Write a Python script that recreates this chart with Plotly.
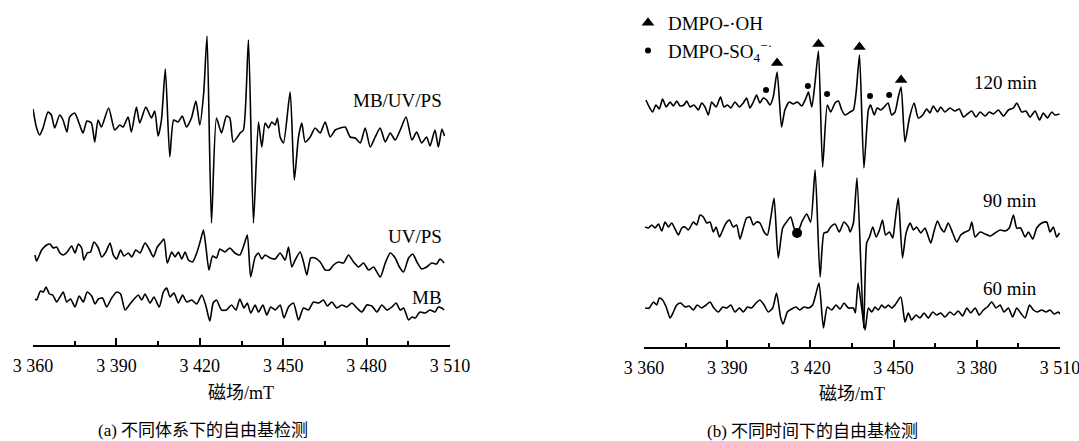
import plotly.graph_objects as go

# ---------------- data (intensity relative to each trace's baseline, a.u.) ----------------
# (a) different systems
mbuvps_x = [3360, 3361.2, 3362.4, 3363.6, 3365.4, 3366.6, 3367.8, 3369.6, 3370.8, 3372.2, 3373.2, 3375, 3376.8, 3378,
            3379.4, 3381, 3382.2, 3383.4, 3384.6, 3387.2, 3389.4, 3391.2, 3392.4, 3394.2, 3395.4, 3397.2, 3398.4, 3400.6,
            3402.6, 3403.8, 3405, 3406.2, 3407.6, 3409.2, 3410.6, 3412.2, 3413.7, 3415.2, 3417, 3418.6, 3420, 3421.4,
            3422.6, 3424.2, 3426, 3427.8, 3429.6, 3430.8, 3432, 3433.8, 3434.5, 3435.7, 3437.5, 3439.3, 3441.1, 3442.3,
            3443.5, 3444.7, 3445.9, 3447.1, 3447.9, 3448.9, 3450.1, 3452.5, 3454, 3455.5, 3456.7, 3457.9, 3459.7, 3461.5,
            3463.3, 3465.1, 3466.9, 3468.7, 3470.5, 3472.3, 3474.1, 3475.9, 3477.7, 3479.5, 3481.3, 3483.1, 3484.9,
            3486.7, 3488.5, 3490.3, 3492.1, 3494.2, 3496.3, 3498, 3499.8, 3501.6, 3502.8, 3504.6, 3505.8, 3507.1, 3508]
mbuvps_y = [14, -4, -12, -5, 11, 8, -5, 8, 3, -9, 6, 10, -2, -10,
            2, 0, -19, 3, -4, 15, -7, -2, -4, 6, -9, 16, 0, 16,
            5, 12, -13, 3, 54, -34, 3, 1, 7, -4, 5, 22, -2, 30,
            87, -100, 5, -10, 7, 5, -19, -13, -10, -7, 83, -100, 1, -24,
            0, -5, 1, -2, 5, -14, -20, 31, -57, -14, 0, -19, -14, -5,
            -10, 1, -14, -7, -5, -4, -14, -15, -20, -5, -24, -14, -5,
            -19, -10, -17, -7, 6, -17, -9, -20, -14, -23, -7, -24, -6, -13]

uvps_x = [3360.7, 3361.3, 3363.1, 3364.9, 3366.1, 3367.3, 3368.5, 3369.7, 3370.9, 3372.3, 3373.9, 3375.1, 3376.3,
          3377.5, 3378.3, 3379.5, 3380.7, 3381.9, 3383.5, 3384.7, 3386.2, 3387.7, 3388.9, 3390.1, 3391.5, 3392.7,
          3394.3, 3395.5, 3397.0, 3398.5, 3400.3, 3401.8, 3403.3, 3404.7, 3405.9, 3407.1, 3408.3, 3409.9, 3411.1,
          3412.3, 3413.5, 3414.7, 3415.9, 3417.4, 3418.9, 3420.1, 3421.3, 3422.2, 3423.3, 3424.6, 3426.0, 3427.2,
          3429.0, 3430.8, 3432.6, 3434.4, 3435.9, 3437.1, 3438.3, 3439.9, 3441.1, 3442.3, 3443.5, 3445.3, 3447.1,
          3448.9, 3450.7, 3451.9, 3453.1, 3454.3, 3456.1, 3457.3, 3458.5, 3459.9, 3461.5, 3463.3, 3465.1, 3466.6,
          3468.1, 3469.9, 3471.7, 3473.5, 3475.3, 3477.1, 3478.9, 3480.7, 3482.5, 3484.9, 3486.7, 3488.5, 3490.3,
          3491.8, 3493.3, 3495.1, 3496.6, 3498.1, 3499.8, 3501.6, 3503.4, 3505.2, 3506.4, 3507.9]
uvps_y = [-2, -8, 3, 8, 9, 5, 6, 0, -2, 1, 7, 0, 9,
          5, -7, 0, 1, 11, 5, -4, 1, 10, -2, -6, 3, -3,
          0, -4, 3, 0, 10, 4, -4, 6, 10, 14, -10, 1, -4,
          1, -6, 1, -7, -9, 0, 11, 23, 6, -17, -3, -5, 4,
          1, 5, 0, -2, 8, 18, -24, -4, 0, -6, -2, -5, -6,
          0, -7, 6, -14, -7, 1, -9, -22, -5, -5, -9, -17, -17,
          -12, -9, -10, -2, -9, -14, -10, -17, -14, -24, -10, 0, -5,
          -14, -19, -5, -1, -9, -16, -14, -10, -11, -6, -10]

mb_x = [3360.7, 3361.3, 3362.7, 3363.7, 3364.7, 3365.9, 3367.1, 3368.5, 3369.7, 3370.9, 3372.1, 3373.5, 3375.1,
        3376.6, 3378.1, 3379.5, 3381.1, 3382.3, 3383.5, 3385.0, 3386.5, 3388.3, 3390.1, 3391.5, 3393.1, 3394.9,
        3396.7, 3397.9, 3399.1, 3400.3, 3402.1, 3403.5, 3405.4, 3406.9, 3408.1, 3409.3, 3410.7, 3412.3, 3413.8,
        3415.3, 3417.1, 3418.9, 3420.7, 3422.2, 3423.6, 3424.8, 3426.0, 3427.8, 3429.6, 3431.4, 3433.0, 3434.4,
        3435.9, 3437.1, 3438.3, 3439.9, 3441.1, 3442.7, 3444.1, 3445.5, 3447.1, 3448.9, 3450.3, 3451.9, 3453.7,
        3455.5, 3457.3, 3459.1, 3460.9, 3462.7, 3464.5, 3465.9, 3467.5, 3469.3, 3471.1, 3472.9, 3474.7, 3476.5,
        3478.3, 3480.1, 3481.9, 3483.7, 3485.5, 3487.3, 3489.1, 3490.6, 3492.1, 3493.3, 3495.1, 3496.3, 3497.5,
        3499.2, 3501.0, 3502.8, 3504.6, 3505.8, 3507.0, 3507.9]
mb_y = [1, 0, 9, 8, 13, 6, 5, -2, 3, 8, -2, 1, -7,
        4, -2, 8, 4, -4, 1, 2, -7, 2, 8, 6, -10, -4,
        2, 5, 0, 6, -3, 3, -7, 8, 12, 3, 7, -3, 5,
        -2, 0, -4, 5, -6, -21, -3, 0, -10, -10, -5, -10, 1,
        -8, -3, -13, -5, -12, -5, -15, -7, -10, -5, -18, -7, -3,
        -20, -8, -10, -2, -3, 0, -6, -2, -8, -5, -7, -3, -8,
        -12, -5, -6, -12, -5, -10, -7, -3, -10, -8, -20, -17, -18,
        -12, -13, -10, -12, -7, -8, -10]

# (b) different times
t120_x = [3360.7, 3361.9, 3363.1, 3364.3, 3365.5, 3366.7, 3368.0, 3369.4, 3370.6, 3371.8, 3373.0, 3374.4, 3375.4,
          3376.6, 3378.0, 3379.6, 3380.8, 3382.0, 3383.2, 3384.4, 3386.0, 3387.6, 3388.8, 3390.1, 3391.3, 3392.8,
          3394.4, 3395.8, 3397.0, 3398.2, 3399.4, 3400.6, 3401.8, 3403.0, 3404.2, 3405.4, 3406.6, 3408.0, 3409.6,
          3410.8, 3412.4, 3413.8, 3415.3, 3416.9, 3418.4, 3419.3, 3420.5, 3421.7, 3422.9, 3424.4, 3426.1, 3427.3,
          3428.9, 3430.1, 3431.3, 3432.5, 3434.3, 3435.5, 3436.5, 3437.7, 3439.3, 3440.9, 3441.7, 3443.0, 3444.1,
          3445.3, 3446.6, 3448.0, 3449.3, 3450.5, 3451.7, 3452.7, 3454.1, 3455.7, 3457.4, 3458.9, 3460.5, 3461.9,
          3463.1, 3464.3, 3465.8, 3467.0, 3468.5, 3470.3, 3472.1, 3473.7, 3475.2, 3476.6, 3478.2, 3479.7, 3481.2,
          3483.0, 3484.5, 3486.0, 3487.8, 3489.6, 3491.4, 3493.2, 3494.4, 3496.2, 3497.7, 3499.2, 3501.0, 3502.6,
          3504.0, 3505.5, 3507.0, 3508.2, 3509.8]
t120_y = [7, 0, -5, 2, -2, 8, 0, 5, 1, 6, 1, 2, 6,
          0, 2, -3, 4, 0, -8, 5, 0, 10, 0, 2, -1, 5,
          0, 4, 9, -1, 5, 12, 4, 9, 7, 2, 10, 35, -20,
          -3, 5, 3, 5, 1, 9, 15, 0, 25, 56, -60, 2, -5,
          4, 6, -3, -8, -5, -3, 15, 52, -61, -3, 2, -8, -1,
          -3, 0, 4, -8, -5, 10, 20, -35, -11, 4, -11, -8, -2,
          -6, 1, -5, 0, -5, -1, -4, -2, -10, -7, -4, -10, -5,
          -9, -5, -7, -3, -9, -3, -1, 4, -5, -4, -10, -4, -13,
          -6, -11, -5, -8, -7]

t90_x = [3360.4, 3361.6, 3362.8, 3364.0, 3365.2, 3366.4, 3367.6, 3368.8, 3370.0, 3371.2, 3372.4, 3373.6, 3374.8,
         3376.0, 3377.8, 3379.0, 3380.2, 3381.4, 3382.6, 3383.8, 3385.0, 3386.0, 3387.2, 3388.4, 3389.6, 3390.8,
         3392.2, 3393.4, 3394.6, 3395.8, 3397.0, 3398.2, 3399.4, 3400.6, 3401.8, 3403.3, 3404.5, 3405.7, 3406.9,
         3408.4, 3410.0, 3411.4, 3412.9, 3414.1, 3415.3, 3416.9, 3418.7, 3420.1, 3421.7, 3423.5, 3424.9, 3426.1,
         3427.3, 3428.9, 3430.4, 3432.1, 3433.7, 3434.3, 3435.5, 3436.8, 3439.2, 3440.3, 3441.3, 3442.5, 3443.7,
         3444.9, 3446.0, 3447.1, 3448.5, 3449.7, 3450.5, 3451.7, 3453.2, 3454.5, 3456.0, 3457.1, 3458.3, 3459.8,
         3461.3, 3462.2, 3463.4, 3464.6, 3465.8, 3467.0, 3468.2, 3469.7, 3471.3, 3472.8, 3474.2, 3475.8, 3477.3,
         3478.2, 3479.4, 3481.2, 3483.0, 3484.8, 3486.6, 3488.4, 3490.2, 3491.7, 3493.2, 3494.4, 3495.8, 3497.4,
         3498.6, 3500.2, 3501.6, 3503.4, 3505.2, 3506.4, 3507.6, 3508.8, 3509.8]
t90_y = [1, 0, 3, 0, 4, -3, 6, 1, 5, -1, -7, 0, 1,
         -2, 6, 3, 13, 11, 5, 6, -4, 1, -9, -2, 5, 8,
         1, 3, -11, 0, 10, 11, 3, 6, 5, -4, -7, 10, 30,
         -30, 0, 6, 11, 0, -5, 6, 14, 6, 58, -49, -5, -4,
         1, 4, -4, 6, 1, -4, 5, 50, -100, -15, -9, 1, -9,
         -2, 8, -7, -4, -10, 6, 30, -30, -5, 5, -2, 1, -5,
         0, -6, -15, -3, 7, 0, -4, 5, -5, -14, -7, -4, -2,
         6, -9, -4, -6, -8, -5, -2, -3, 0, 13, 0, 0, -9,
         -4, -11, 0, 5, 6, -4, 1, -9, -5]

t60_x = [3360.4, 3361.9, 3363.4, 3364.6, 3365.5, 3366.7, 3368.0, 3369.4, 3370.6, 3371.8, 3373.2, 3374.8, 3376.3,
         3377.8, 3379.2, 3380.8, 3382.4, 3383.8, 3385.2, 3386.8, 3388.4, 3389.8, 3391.3, 3392.8, 3394.4, 3395.8,
         3397.3, 3398.8, 3400.4, 3401.8, 3403.3, 3404.8, 3406.4, 3407.8, 3409.3, 3410.2, 3411.7, 3413.2, 3414.8,
         3416.2, 3417.7, 3419.3, 3420.8, 3421.7, 3423.1, 3424.7, 3426.1, 3427.7, 3429.2, 3430.7, 3432.1, 3433.7,
         3435.5, 3436.2, 3437.2, 3439.7, 3440.9, 3442.1, 3443.3, 3444.5, 3445.7, 3446.9, 3448.1, 3449.3, 3450.5,
         3452.6, 3454.1, 3455.3, 3456.5, 3458.1, 3459.5, 3461.0, 3462.5, 3464.1, 3465.5, 3467.0, 3468.5, 3470.3,
         3471.8, 3473.3, 3474.9, 3476.4, 3477.8, 3479.4, 3480.9, 3482.4, 3483.8, 3485.4, 3486.9, 3488.4, 3489.8,
         3491.4, 3492.9, 3494.4, 3495.8, 3497.4, 3499.0, 3500.4, 3501.8, 3503.4, 3505.0, 3506.4, 3507.9, 3509.4,
         3510.0]
t60_y = [0, 0, 6, 3, 10, 8, 1, -10, -4, 3, 5, 1, 2,
         -2, 3, 0, 3, 6, 0, -4, 1, 0, 3, -4, 0, -4,
         1, 0, 5, 8, 3, -4, 0, 15, -10, -16, -4, -1, 1,
         -2, 1, 0, 3, 11, 25, -20, 1, -2, 3, -1, 5, 0,
         0, -5, 25, -22, 0, -4, 1, -2, 3, 0, 3, 0, 3,
         11, -14, -5, -12, -7, -10, -5, -10, -4, -7, -5, -9, -4,
         -7, -3, -8, 0, -5, 0, -7, -2, 1, 6, 0, 3, -4,
         0, -9, 0, -5, -10, 3, -2, -4, -2, -4, -2, -6, -4,
         -6]

# marker annotations on the 120 min spectrum (relative to its baseline)
oh_x = [3408.0, 3422.9, 3437.7, 3452.7]
oh_y = [44, 63, 60, 27]
so4_x = [3404.0, 3419.1, 3426.0, 3441.5, 3448.4]
so4_y = [17, 21, 13, 11, 12]
stray_dot_x = [3415.2]
stray_dot_y = [-5]

# labels
left_labels = ["MB/UV/PS", "UV/PS", "MB"]
right_labels = ["120 min", "90 min", "60 min"]
tick_vals = [3360, 3390, 3420, 3450, 3480, 3510]
left_tick_text = ["3 360", "3 390", "3 420", "3 450", "3 480", "3 510"]
right_tick_text = ["3 360", "3 390", "3 420", "3 450", "3 380", "3 510"]

# ---------------- layout constants ----------------
W, H = 1079, 441
SERIF = "Liberation Serif, Times New Roman, Noto Sans CJK SC, serif"
LEFT_AXIS_PX, RIGHT_AXIS_PX = 345, 347
left_offsets = [222, 92, 45]
right_offsets = [240, 119, 39]


def shift(vals, off):
    return [v + off for v in vals]


line = dict(color="black", width=1.6, shape="spline", smoothing=0.6)
fig = go.Figure()

for xs, ys, off in [(mbuvps_x, mbuvps_y, left_offsets[0]),
                    (uvps_x, uvps_y, left_offsets[1]),
                    (mb_x, mb_y, left_offsets[2])]:
    fig.add_trace(go.Scatter(x=xs, y=shift(ys, off), mode="lines", line=line,
                             xaxis="x", yaxis="y", showlegend=False, hoverinfo="skip"))

for xs, ys, off in [(t120_x, t120_y, right_offsets[0]),
                    (t90_x, t90_y, right_offsets[1]),
                    (t60_x, t60_y, right_offsets[2])]:
    fig.add_trace(go.Scatter(x=xs, y=shift(ys, off), mode="lines", line=line,
                             xaxis="x2", yaxis="y2", showlegend=False, hoverinfo="skip"))

fig.add_trace(go.Scatter(x=oh_x, y=shift(oh_y, right_offsets[0]), mode="markers",
                         marker=dict(symbol="triangle-up", size=11, color="black"),
                         name="DMPO-·OH", xaxis="x2", yaxis="y2"))
fig.add_trace(go.Scatter(x=so4_x, y=shift(so4_y, right_offsets[0]), mode="markers",
                         marker=dict(symbol="circle", size=6, color="black"),
                         name="DMPO-SO<sub>4</sub><sup>−·</sup>", xaxis="x2", yaxis="y2"))
fig.add_trace(go.Scatter(x=stray_dot_x, y=shift(stray_dot_y, right_offsets[1]), mode="markers",
                         marker=dict(symbol="circle", size=10, color="black"),
                         showlegend=False, xaxis="x2", yaxis="y2"))


def xaxis_def(domain, ticktext, anchor):
    return dict(domain=domain, range=[3360, 3510], tickvals=tick_vals, ticktext=ticktext,
                ticks="inside", ticklen=7, tickwidth=1.5, tickcolor="black",
                showline=True, linecolor="black", linewidth=1.5,
                showgrid=False, zeroline=False, anchor=anchor, automargin=False,
                ticklabeloverflow="allow",
                tickfont=dict(family=SERIF, size=18, color="black"), ticklabelstandoff=4,
                minor=dict(ticks="inside", ticklen=4, tickwidth=1.5, tickcolor="black",
                           dtick=15, tick0=3360, showgrid=False))


fig.update_layout(
    width=W, height=H, margin=dict(l=0, r=0, t=0, b=0, autoexpand=False),
    paper_bgcolor="white", plot_bgcolor="rgba(0,0,0,0)",
    xaxis=xaxis_def([33 / W, 450 / W], left_tick_text, "y"),
    xaxis2=xaxis_def([644 / W, 1060 / W], right_tick_text, "y2"),
    yaxis=dict(domain=[1 - LEFT_AXIS_PX / H, 1], range=[0, LEFT_AXIS_PX], visible=False, anchor="x",
               automargin=False),
    yaxis2=dict(domain=[1 - RIGHT_AXIS_PX / H, 1], range=[0, RIGHT_AXIS_PX], visible=False, anchor="x2",
                automargin=False),
    showlegend=True,
    legend=dict(x=628 / W, y=1 - 4 / H, xanchor="left", yanchor="top",
                font=dict(family=SERIF, size=19, color="black"),
                bgcolor="rgba(0,0,0,0)", tracegroupgap=0, itemwidth=30),
)

ann = []
font_lbl = dict(family=SERIF, size=19, color="black")
for txt, yv in zip(left_labels, [245, 109, 48]):
    ann.append(dict(x=3508, y=yv, xref="x", yref="y", text=txt, showarrow=False,
                    xanchor="right", yanchor="middle", font=font_lbl))
for txt, yv in zip(right_labels, [265, 147, 59]):
    ann.append(dict(x=3502.5, y=yv, xref="x2", yref="y2", text=txt, showarrow=False,
                    xanchor="right", yanchor="middle", font=font_lbl))
font_t = dict(family=SERIF, size=18, color="black")
ann.append(dict(x=241 / W, y=1 - 393 / H, xref="paper", yref="paper", text="磁场/mT",
                showarrow=False, xanchor="center", yanchor="middle", font=font_t))
ann.append(dict(x=852 / W, y=1 - 394 / H, xref="paper", yref="paper", text="磁场/mT",
                showarrow=False, xanchor="center", yanchor="middle", font=font_t))
font_c = dict(family=SERIF, size=17, color="black")
ann.append(dict(x=203 / W, y=1 - 430 / H, xref="paper", yref="paper", text="(a) 不同体系下的自由基检测",
                showarrow=False, xanchor="center", yanchor="middle", font=font_c))
ann.append(dict(x=812 / W, y=1 - 431 / H, xref="paper", yref="paper", text="(b) 不同时间下的自由基检测",
                showarrow=False, xanchor="center", yanchor="middle", font=font_c))
fig.update_layout(annotations=ann)

fig.write_html("out.html", config={"displayModeBar": False},
               post_script="document.body.style.margin='0px';")
